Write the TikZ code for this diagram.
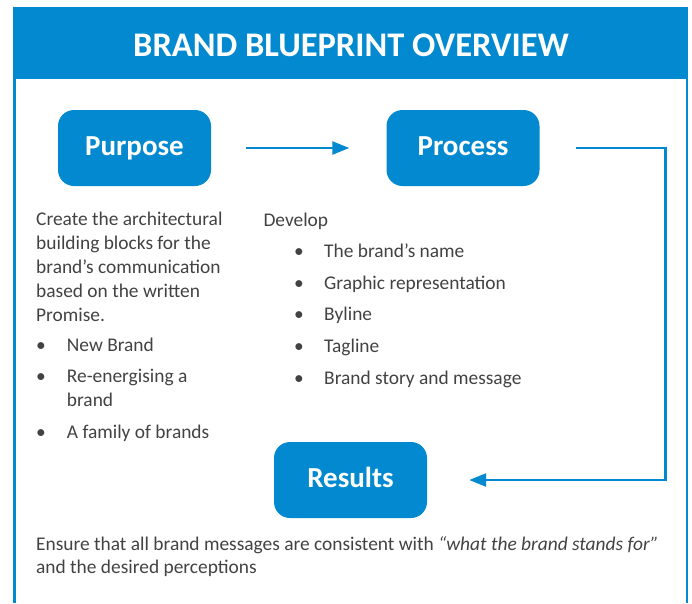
\documentclass[tikz,border=0pt]{standalone}
\usepackage{fontspec}
\setmainfont{Carlito}
\usetikzlibrary{arrows.meta}
\definecolor{brandblue}{RGB}{3,137,207}
\definecolor{bodygrey}{RGB}{66,66,66}

\begin{document}
\begin{tikzpicture}[x=1pt,y=-1pt,
  headline/.style={anchor=base, inner sep=0pt, text=white, font=\fontsize{34.5}{40}\selectfont\bfseries},
  stagebox/.style={fill=brandblue, rounded corners=16pt, minimum width=153pt, minimum height=76pt,
    inner sep=0pt, text=white, font=\fontsize{29}{35}\selectfont\bfseries, text height=15pt, text depth=0pt},
  bodytext/.style={anchor=base west, inner sep=0pt, text=bodygrey, font=\fontsize{19.4}{24}\selectfont},
  bulletmark/.style={anchor=base, inner sep=0pt, text=bodygrey, font=\fontsize{19.4}{24}\selectfont},
  flow/.style={draw=brandblue, line width=2.4pt, -{Triangle[length=17pt,width=13pt]}},
]
\useasboundingbox (0,0) rectangle (692,603);

% header band and open frame
\fill[brandblue] (13.3,7) rectangle (688.3,79);
\draw[brandblue, line width=2.8pt] (14.7,7) -- (14.7,603) (686.9,7) -- (686.9,603);
\node[headline] (title) at (351,56) {BRAND BLUEPRINT OVERVIEW};

% stages
\node[stagebox] (purpose) at (134.5,148) {Purpose};
\node[stagebox] (process) at (463,148) {Process};
\node[stagebox] (results) at (350.5,480) {Results};

% connectors
\coordinate (bend) at (665.5,148);
\draw[flow, shorten <=35pt, shorten >=37pt] (purpose.east) -- (process.west);
\draw[flow, shorten <=36pt, shorten >=42pt] (process.east) -- (bend) |- (results.east);

% purpose description
\node[bodytext] (p1) at (36,225.2) {Create the architectural};
\node[bodytext] (p2) at (36,249.3) {building blocks for the};
\node[bodytext] (p3) at (36,273.4) {brand’s communication};
\node[bodytext] (p4) at (36,297.5) {based on the written};
\node[bodytext] (p5) at (36,321.6) {Promise.};
\node[bulletmark] (pb1) at (41,351.3) {•};
\node[bodytext] (pi1) at (66.7,351.3) {New Brand};
\node[bulletmark] (pb2) at (41,382.7) {•};
\node[bodytext] (pi2) at (66.7,382.7) {Re-energising a};
\node[bodytext] (pi2b) at (66.7,406.5) {brand};
\node[bulletmark] (pb3) at (41,438.2) {•};
\node[bodytext] (pi3) at (66.7,438.2) {A family of brands};

% process description
\node[bodytext] (d0) at (263.3,226.8) {Develop};
\node[bulletmark] (db1) at (299,257.3) {•};
\node[bodytext] (di1) at (324,257.3) {The brand’s name};
\node[bulletmark] (db2) at (299,289.3) {•};
\node[bodytext] (di2) at (324,289.3) {Graphic representation};
\node[bulletmark] (db3) at (299,320.6) {•};
\node[bodytext] (di3) at (324,320.6) {Byline};
\node[bulletmark] (db4) at (299,352.3) {•};
\node[bodytext] (di4) at (324,352.3) {Tagline};
\node[bulletmark] (db5) at (299,384) {•};
\node[bodytext] (di5) at (324,384) {Brand story and message};

% results description
\node[bodytext] (r1) at (36,550.6) {Ensure that all brand messages are consistent with \textit{“what the brand stands for”}};
\node[bodytext] (r2) at (36,573.3) {and the desired perceptions};
\end{tikzpicture}
\end{document}
